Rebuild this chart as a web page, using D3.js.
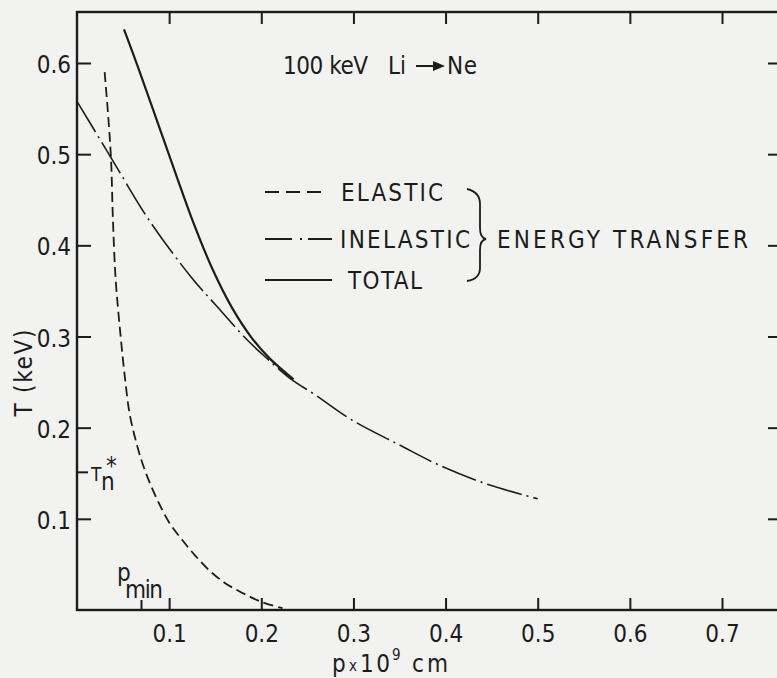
<!DOCTYPE html>
<html>
<head>
<meta charset="utf-8">
<script src="https://cdn.jsdelivr.net/npm/d3@7"></script>
<style>
  html, body { margin: 0; padding: 0; background: #f2f2f0; }
  svg { display: block; }
  text { font-family: "Liberation Sans Narrow", "DejaVu Sans Condensed", "DejaVu Sans", sans-serif; fill: #1c1c1c; }
  .axis line { stroke: #1c1c1c; stroke-width: 2; }
  .axis path { display: none; }
  .axis text { font-size: 24px; }
</style>
</head>
<body>
<div id="chart"></div>
<script>
// values (p in 1e-9 cm, T in keV)
const xTicks = [0.1, 0.2, 0.3, 0.4, 0.5, 0.6, 0.7];
const yTicks = [0.1, 0.2, 0.3, 0.4, 0.5, 0.6];

const elasticP = [0.030, 0.034, 0.037, 0.039, 0.042, 0.047, 0.052, 0.057, 0.064, 0.071, 0.080, 0.089, 0.100, 0.114, 0.128, 0.143, 0.160, 0.179, 0.200, 0.223];
const elasticT = [0.590, 0.540, 0.493, 0.428, 0.362, 0.304, 0.255, 0.216, 0.185, 0.161, 0.137, 0.117, 0.096, 0.077, 0.060, 0.044, 0.030, 0.019, 0.009, 0.002];

const inelasticP = [0.000, 0.037, 0.078, 0.124, 0.151, 0.184, 0.205, 0.230, 0.260, 0.299, 0.350, 0.393, 0.448, 0.500];
const inelasticT = [0.558, 0.496, 0.428, 0.365, 0.334, 0.297, 0.277, 0.255, 0.235, 0.208, 0.181, 0.159, 0.137, 0.122];

const totalP = [0.051, 0.066, 0.086, 0.108, 0.124, 0.147, 0.168, 0.190, 0.209, 0.235];
const totalT = [0.637, 0.596, 0.539, 0.476, 0.431, 0.374, 0.332, 0.298, 0.276, 0.253];

const pMin = 0.07;
const tnStar = 0.151;

const width = 777, height = 678;

const svg = d3.select("#chart").append("svg")
    .attr("width", width)
    .attr("height", height);

const x = d3.scaleLinear().domain([0, 0.7]).range([77, 722]);
const y = d3.scaleLinear().domain([0, 0.6]).range([610, 63]);

// plot frame runs a bit past the last ticks (right edge is cut off by the page)
const xMax = x.invert(782), yMax = y.invert(12);

svg.append("rect")
    .attr("x", x(0))
    .attr("y", y(yMax))
    .attr("width", x(xMax) - x(0))
    .attr("height", y(0) - y(yMax))
    .attr("fill", "none")
    .attr("stroke", "#1c1c1c")
    .attr("stroke-width", 2.4);

const fmt = d3.format(".1f");

svg.append("g")
    .attr("class", "axis")
    .attr("transform", "translate(0," + y(0) + ")")
    .call(d3.axisBottom(x).tickValues(xTicks).tickSize(-12).tickPadding(15).tickFormat(fmt));

svg.append("g")
    .attr("class", "axis")
    .attr("transform", "translate(0," + y(yMax) + ")")
    .call(d3.axisTop(x).tickValues(xTicks).tickSize(-12).tickFormat(""));

svg.append("g")
    .attr("class", "axis")
    .attr("transform", "translate(" + x(0) + ",0)")
    .call(d3.axisLeft(y).tickValues(yTicks).tickSize(-14).tickPadding(6).tickFormat(fmt))
    .selectAll("text")
    .attr("dy", "0.4em");

svg.append("g")
    .attr("class", "axis")
    .attr("transform", "translate(" + x(xMax) + ",0)")
    .call(d3.axisRight(y).tickValues(yTicks).tickSize(-14).tickFormat(""));

// extra marks: p_min and T_n*
svg.append("line")
    .attr("x1", x(pMin)).attr("x2", x(pMin))
    .attr("y1", y(0)).attr("y2", y(0) - 10)
    .attr("stroke", "#1c1c1c").attr("stroke-width", 2);

svg.append("line")
    .attr("x1", x(0)).attr("x2", x(0) + 11)
    .attr("y1", y(tnStar)).attr("y2", y(tnStar))
    .attr("stroke", "#1c1c1c").attr("stroke-width", 2);

// curves
const line = d3.line()
    .x(d => x(d[0]))
    .y(d => y(d[1]))
    .curve(d3.curveCatmullRom.alpha(0.5));

const curves = [
    { p: inelasticP, t: inelasticT, dash: "36,5,2,5", w: 1.6 },
    { p: elasticP, t: elasticT, dash: "10,5", w: 1.8 },
    { p: totalP, t: totalT, dash: null, w: 2.2 }
];

curves.forEach(c => {
    svg.append("path")
        .datum(d3.zip(c.p, c.t))
        .attr("d", line)
        .attr("fill", "none")
        .attr("stroke", "#1c1c1c")
        .attr("stroke-width", c.w)
        .attr("stroke-dasharray", c.dash);
});

// title
svg.append("text").attr("x", 283).attr("y", 74).attr("font-size", 24)
    .attr("textLength", 85).attr("lengthAdjust", "spacing").text("100 keV");
svg.append("text").attr("x", 388).attr("y", 74).attr("font-size", 24).text("Li");
svg.append("line").attr("x1", 416).attr("x2", 436).attr("y1", 66).attr("y2", 66)
    .attr("stroke", "#1c1c1c").attr("stroke-width", 2);
svg.append("path").attr("d", "M433,61 L445,66 L433,71 Z").attr("fill", "#1c1c1c");
svg.append("text").attr("x", 447).attr("y", 74).attr("font-size", 24)
    .attr("textLength", 30).text("Ne");

// legend
const legend = [
    { label: "ELASTIC", y: 192, dash: "14,7", w: 1.8, x2: 325, tx: 341, tl: 102 },
    { label: "INELASTIC", y: 239, dash: "27,8,2,6,24", w: 1.8, x2: 332, tx: 340, tl: 130 },
    { label: "TOTAL", y: 280, dash: null, w: 2.2, x2: 332, tx: 348, tl: 74 }
];

legend.forEach(l => {
    svg.append("line")
        .attr("x1", 265).attr("x2", l.x2)
        .attr("y1", l.y).attr("y2", l.y)
        .attr("stroke", "#1c1c1c")
        .attr("stroke-width", l.w)
        .attr("stroke-dasharray", l.dash);
    svg.append("text")
        .attr("x", l.tx).attr("y", l.y + 9)
        .attr("font-size", 24)
        .attr("textLength", l.tl)
        .attr("lengthAdjust", "spacing")
        .text(l.label);
});

svg.append("path")
    .attr("d", "M467,189 Q480,192 480,204 L480,228 Q480,238 486,239 Q480,240 480,250 L480,268 Q480,279 467,281")
    .attr("fill", "none")
    .attr("stroke", "#1c1c1c")
    .attr("stroke-width", 1.8);

svg.append("text")
    .attr("x", 497).attr("y", 248)
    .attr("font-size", 24)
    .attr("textLength", 251)
    .attr("lengthAdjust", "spacing")
    .text("ENERGY TRANSFER");

// T_n* and p_min labels, one text each with sub/superscripts
const tn = svg.append("text").attr("x", 91).attr("y", 481).attr("font-size", 19);
tn.append("tspan").text("T");
tn.append("tspan").attr("x", 101).attr("dy", 9).attr("font-size", 24).text("n");
tn.append("tspan").attr("x", 106).attr("dy", -16).attr("font-size", 24).text("*");

const pm = svg.append("text").attr("x", 117).attr("y", 581).attr("font-size", 24);
pm.append("tspan").text("p");
pm.append("tspan").attr("x", 125).attr("dy", 17).attr("textLength", 38).text("min");

// axis titles
svg.append("text")
    .attr("transform", "translate(32,373) rotate(-90)")
    .attr("text-anchor", "middle")
    .attr("font-size", 24)
    .attr("textLength", 87)
    .attr("lengthAdjust", "spacing")
    .text("T (keV)");

const xl = svg.append("text").attr("y", 672).attr("font-size", 24);
xl.append("tspan").attr("x", 332).text("p");
xl.append("tspan").attr("x", 349).attr("font-size", 15).attr("dy", -1).text("x");
xl.append("tspan").attr("x", 360).attr("dy", 1).attr("textLength", 30).text("10");
xl.append("tspan").attr("x", 392).attr("font-size", 15).attr("dy", -12).text("9");
xl.append("tspan").attr("x", 412).attr("dy", 12).attr("textLength", 36).text("cm");
</script>
</body>
</html>
